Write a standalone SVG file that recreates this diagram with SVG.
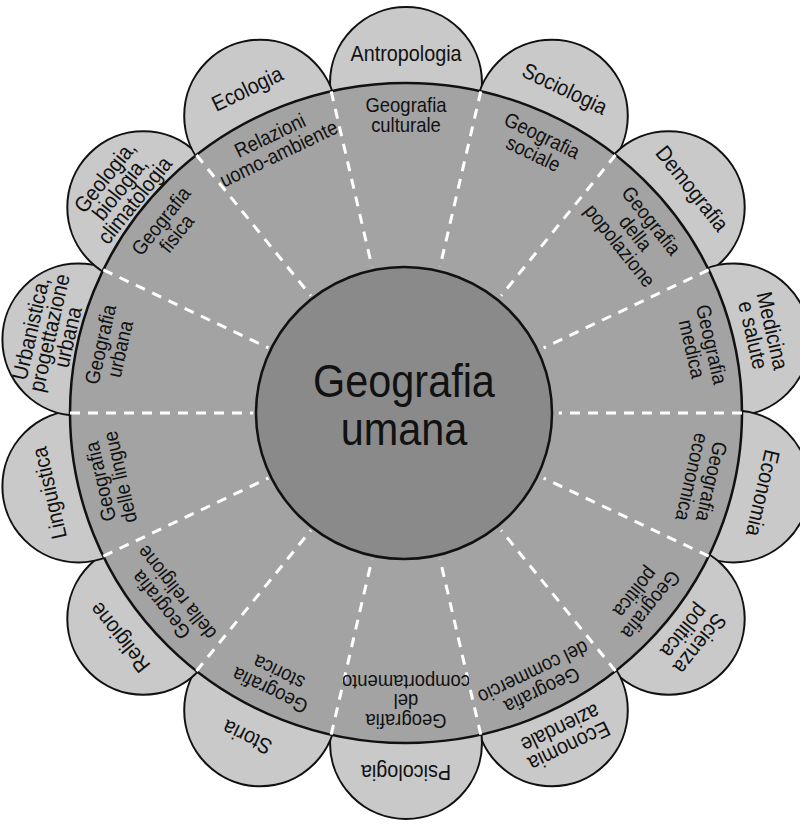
<svg xmlns="http://www.w3.org/2000/svg" width="800" height="824" viewBox="0 0 800 824">
<style>
.petal{fill:#c9c9c9;stroke:#111;stroke-width:2}
.ring{fill:#a3a3a3;stroke:#111;stroke-width:2.5}
.hub{fill:#8a8a8a;stroke:#111;stroke-width:2.5}
.div{stroke:#fff;stroke-width:3;stroke-dasharray:10 8;fill:none}
text{font-family:"Liberation Sans",Arial,sans-serif;text-anchor:middle;fill:#111}
.p{font-size:22px}
.s{font-size:20.5px}
.c{font-size:46px}
</style>
<rect width="800" height="824" fill="#fff"/>
<g id="petals">
<g id="p-antropologia"><circle class="petal" cx="406" cy="83" r="76"/><g transform="translate(406,53) rotate(0) scale(0.9,1)"><text class="p" y="7.5">Antropologia</text></g></g>
<g id="p-sociologia"><circle class="petal" cx="551.8" cy="115.7" r="76"/><g transform="translate(564.8,88.7) rotate(25.714) scale(0.9,1)"><text class="p" y="7.5">Sociologia</text></g></g>
<g id="p-demografia"><circle class="petal" cx="668.7" cy="207.2" r="76"/><g transform="translate(692.2,188.5) rotate(51.429) scale(0.9,1)"><text class="p" y="7.5">Demografia</text></g></g>
<g id="p-medicina"><circle class="petal" cx="733.6" cy="339.6" r="76"/><g transform="translate(762.8,332.9) rotate(77.143) scale(0.9,1)"><text class="p" y="-2.5">Medicina</text><text class="p" y="17.5">e salute</text></g></g>
<g id="p-economia"><circle class="petal" cx="733.6" cy="486.4" r="76"/><g transform="translate(762.8,493.1) rotate(102.857) scale(0.9,1)"><text class="p" y="7.5">Economia</text></g></g>
<g id="p-scienza"><circle class="petal" cx="668.7" cy="618.8" r="76"/><g transform="translate(692.2,637.5) rotate(128.571) scale(0.9,1)"><text class="p" y="-2.5">Scienza</text><text class="p" y="17.5">politica</text></g></g>
<g id="p-aziendale"><circle class="petal" cx="551.8" cy="710.3" r="76"/><g transform="translate(564.8,737.3) rotate(154.286) scale(0.9,1)"><text class="p" y="-2.5">Economia</text><text class="p" y="17.5">aziendale</text></g></g>
<g id="p-psicologia"><circle class="petal" cx="406" cy="743" r="76"/><g transform="translate(406,773) rotate(180) scale(0.9,1)"><text class="p" y="7.5">Psicologia</text></g></g>
<g id="p-storia"><circle class="petal" cx="260.2" cy="710.3" r="76"/><g transform="translate(247.2,737.3) rotate(205.714) scale(0.9,1)"><text class="p" y="7.5">Storia</text></g></g>
<g id="p-religione"><circle class="petal" cx="143.3" cy="618.8" r="76"/><g transform="translate(119.8,637.5) rotate(231.429) scale(0.9,1)"><text class="p" y="7.5">Religione</text></g></g>
<g id="p-linguistica"><circle class="petal" cx="78.4" cy="486.4" r="76"/><g transform="translate(49.2,493.1) rotate(257.143) scale(0.9,1)"><text class="p" y="7.5">Linguistica</text></g></g>
<g id="p-urbanistica"><circle class="petal" cx="78.4" cy="339.6" r="76"/><g transform="translate(49.2,332.9) rotate(282.857) scale(0.9,1)"><text class="p" y="-11.5">Urbanistica,</text><text class="p" y="7.5">progettazione</text><text class="p" y="26.5">urbana</text></g></g>
<g id="p-geologia"><circle class="petal" cx="143.3" cy="207.2" r="76"/><g transform="translate(119.8,188.5) rotate(308.571) scale(0.9,1)"><text class="p" y="-11.5">Geologia,</text><text class="p" y="7.5">biologia,</text><text class="p" y="26.5">climatologia</text></g></g>
<g id="p-ecologia"><circle class="petal" cx="260.2" cy="115.7" r="76"/><g transform="translate(247.2,88.7) rotate(334.286) scale(0.9,1)"><text class="p" y="7.5">Ecologia</text></g></g>
</g>
<g id="ring"><ellipse class="ring" cx="406" cy="413" rx="336" ry="330"/></g>
<g id="connectors">
<line class="div" x1="480.8" y1="91.3" x2="440.0" y2="266.8"/>
<line class="div" x1="615.5" y1="155.0" x2="501.2" y2="295.7"/>
<line class="div" x1="708.7" y1="269.8" x2="543.6" y2="347.9"/>
<line class="div" x1="742" y1="413" x2="558.7" y2="413"/>
<line class="div" x1="708.7" y1="556.2" x2="543.6" y2="478.1"/>
<line class="div" x1="615.5" y1="671.0" x2="501.2" y2="530.3"/>
<line class="div" x1="480.8" y1="734.7" x2="440.0" y2="559.2"/>
<line class="div" x1="331.2" y1="734.7" x2="372.0" y2="559.2"/>
<line class="div" x1="196.5" y1="671.0" x2="310.8" y2="530.3"/>
<line class="div" x1="103.3" y1="556.2" x2="268.4" y2="478.1"/>
<line class="div" x1="70" y1="413" x2="253.3" y2="413"/>
<line class="div" x1="103.3" y1="269.8" x2="268.4" y2="347.9"/>
<line class="div" x1="196.5" y1="155.0" x2="310.8" y2="295.7"/>
<line class="div" x1="331.2" y1="91.3" x2="372.0" y2="266.8"/>
</g>
<g id="hub"><ellipse class="hub" cx="404" cy="413" rx="148" ry="146"/><g transform="translate(404,0) scale(0.9,1)"><text class="c" x="0" y="397">Geografia</text><text class="c" x="0" y="445">umana</text></g></g>
<g id="sectors">
<g id="s-culturale" transform="translate(406,114.5) rotate(0) scale(0.9,1)"><text class="s" y="-2.5">Geografia</text><text class="s" y="17.5">culturale</text></g>
<g id="s-sociale" transform="translate(537.9,144.1) rotate(25.714) scale(0.9,1)"><text class="s" y="-2.5">Geografia</text><text class="s" y="17.5">sociale</text></g>
<g id="s-popolazione" transform="translate(636,232.8) rotate(51.429) scale(0.9,1)"><text class="s" y="-12.5">Geografia</text><text class="s" y="7.5">della</text><text class="s" y="27.5">popolazione</text></g>
<g id="s-medica" transform="translate(702.3,346.6) rotate(77.143) scale(0.9,1)"><text class="s" y="-2.5">Geografia</text><text class="s" y="17.5">medica</text></g>
<g id="s-economica" transform="translate(702.3,479.4) rotate(102.857) scale(0.9,1)"><text class="s" y="-2.5">Geografia</text><text class="s" y="17.5">economica</text></g>
<g id="s-politica" transform="translate(643.6,599.1) rotate(128.571) scale(0.9,1)"><text class="s" y="-2.5">Geografia</text><text class="s" y="17.5">politica</text></g>
<g id="s-commercio" transform="translate(537.9,681.9) rotate(154.286) scale(0.9,1)"><text class="s" y="-2.5">Geografia</text><text class="s" y="17.5">del commercio</text></g>
<g id="s-comportamento" transform="translate(406,702) rotate(180) scale(0.9,1)"><text class="s" y="-12.5">Geografia</text><text class="s" y="7.5">del</text><text class="s" y="27.5">comportamento</text></g>
<g id="s-storica" transform="translate(274.1,681.9) rotate(205.714) scale(0.9,1)"><text class="s" y="-2.5">Geografia</text><text class="s" y="17.5">storica</text></g>
<g id="s-religione" transform="translate(168.4,599.1) rotate(231.429) scale(0.9,1)"><text class="s" y="-2.5">Geografia</text><text class="s" y="17.5">della religione</text></g>
<g id="s-lingue" transform="translate(109.7,479.4) rotate(257.143) scale(0.9,1)"><text class="s" y="-2.5">Geografia</text><text class="s" y="17.5">delle lingue</text></g>
<g id="s-urbana" transform="translate(109.7,346.6) rotate(282.857) scale(0.9,1)"><text class="s" y="-2.5">Geografia</text><text class="s" y="17.5">urbana</text></g>
<g id="s-fisica" transform="translate(168.4,226.9) rotate(308.571) scale(0.9,1)"><text class="s" y="-2.5">Geografia</text><text class="s" y="17.5">fisica</text></g>
<g id="s-relazioni" transform="translate(274.1,144.1) rotate(334.286) scale(0.9,1)"><text class="s" y="-2.5">Relazioni</text><text class="s" y="17.5">uomo-ambiente</text></g>
</g>
</svg>
